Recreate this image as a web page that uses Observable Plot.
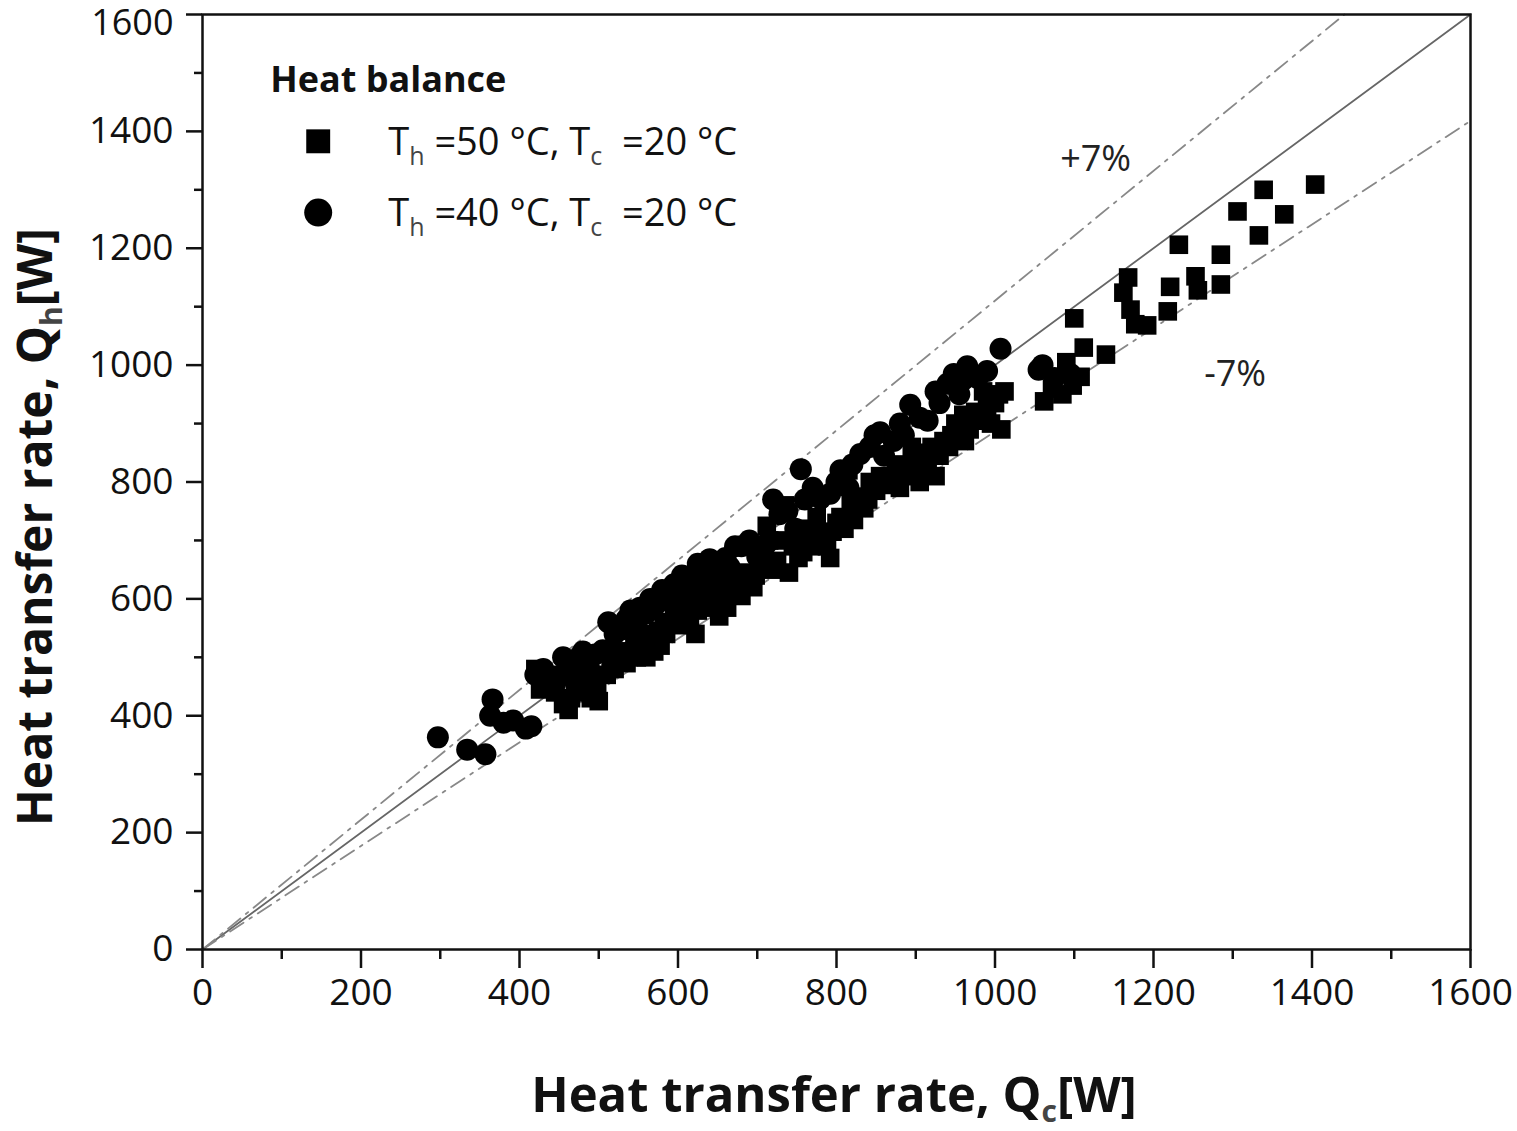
<!DOCTYPE html>
<html><head><meta charset="utf-8">
<script src="https://cdn.jsdelivr.net/npm/d3@7"></script>
<script src="https://cdn.jsdelivr.net/npm/@observablehq/plot@0.6"></script>
<style>
html,body{margin:0;padding:0;background:#fff;}
#chart{width:1517px;height:1131px;}
</style>
</head><body><div id="chart"></div>
<script>
// ---- data (Qc [W], Qh [W]) ----
const series50 = [ // Th = 50 °C, Tc = 20 °C (squares)
[420,480],[432,468],[445,440],[455,420],[462,410],[470,450],[480,440],[490,430],[500,425],[510,470],
[520,480],[530,500],[540,510],[545,530],[555,520],[560,500],[570,510],[575,545],[585,540],[590,560],
[600,555],[605,580],[615,570],[622,540],[630,600],[640,585],[645,610],[652,570],[660,600],[665,620],
[672,640],[680,605],[690,630],[695,620],[705,660],[712,725],[720,650],[730,700],[735,760],[740,645],
[752,670],[760,705],[768,690],[775,740],[785,700],[792,670],[800,730],[810,720],[815,820],[822,735],
[835,755],[842,800],[850,785],[862,800],[870,810],[880,790],[890,810],[895,860],[905,800],[915,830],
[925,810],[935,870],[942,860],[950,900],[958,880],[968,890],[975,920],[985,905],[995,900],[1000,935],
[1008,890],[1012,955],[1062,938],[1072,960],[1085,950],[1090,1005],[1098,965],[1100,1080],[1108,980],[1112,1030],
[1140,1018],[1162,1124],[1168,1150],[1171,1095],[1177,1070],[1192,1068],[1218,1092],[1221,1134],[1232,1206],[1253,1152],
[1256,1128],[1285,1138],[1285,1189],[1306,1263],[1333,1222],[1339,1300],[1365,1258],[1404,1309],
[450,470],[465,430],[478,460],[488,455],[498,445],[515,490],[525,510],[535,490],[548,500],[558,540],
[565,530],[578,520],[582,560],[595,575],[608,560],[612,590],[618,605],[625,580],[635,620],[648,595],
[655,625],[662,585],[670,610],[678,625],[685,645],[698,640],[708,680],[715,700],[725,665],[745,690],
[758,680],[765,720],[778,710],[788,690],[795,715],[805,740],[818,760],[828,775],[840,770],[855,810],
[868,795],[875,830],[898,830],[910,850],[920,860],[930,845],[945,880],[962,870],[972,905],[990,930],
[426,445],[1005,950],[985,955],[960,915]
];
const series40 = [ // Th = 40 °C, Tc = 20 °C (circles)
[297,363],[334,342],[357,334],[366,428],[363,400],[380,388],[392,392],[408,378],[415,382],[420,470],
[440,462],[455,500],[470,490],[480,510],[495,505],[505,512],[512,560],[530,548],[540,580],[548,560],
[560,575],[572,590],[580,615],[598,605],[605,640],[620,625],[630,650],[640,668],[655,640],[665,655],
[680,690],[700,672],[712,695],[728,745],[748,720],[755,822],[770,790],[780,772],[792,780],[805,820],
[815,790],[830,848],[848,880],[860,845],[872,870],[885,880],[893,932],[905,910],[915,905],[930,935],
[940,968],[955,950],[965,998],[978,978],[990,990],[1007,1028],[1055,992],[1060,1000],[1075,978],[1095,985],
[430,480],[445,455],[460,470],[475,500],[488,480],[520,540],[535,565],[552,585],[565,600],[585,600],
[595,625],[612,630],[625,660],[648,650],[660,670],[672,690],[690,700],[720,770],[738,750],[760,770],
[800,800],[820,830],[842,860],[855,885],[880,900],[925,955],[948,985],[960,975]
];
const xMajorTicks = [0,200,400,600,800,1000,1200,1400,1600];
const xMinorTicks = [100,300,500,700,900,1100,1300,1500];
const yMajorTicks = [0,200,400,600,800,1000,1200,1400,1600];
const yLabelledTicks = [0,200,400,600,800,1000,1200,1400];
const yTopTick = [1600];
const yMinorTicks = [100,300,500,700,900,1100,1300,1500];
const diagonal = [[0,0],[1600,1600]];
const upperBand = [[0,0],[1441,1600]];  // "+7%" line as drawn
const lowerBand = [[0,0],[1600,1418]];  // "-7%" line as drawn
const bandLabels = [{x:1127,y:1352,text:"+7%"},{x:1303,y:984,text:"-7%"}];
const legendTitle = "Heat balance";
const legendItems = [
  {symbol:"square", parts:[["T"],["h",true],[" =50 °C, T"],["c",true],["  =20 °C"]]},
  {symbol:"circle", parts:[["T"],["h",true],[" =40 °C, T"],["c",true],["  =20 °C"]]}
];
const xLabelParts = [["Heat transfer rate, Q"],["c",true],["[W]"]];
const yLabelParts = [["Heat transfer rate, Q"],["h",true],["[W]"]];

const font = "'Open Sans', sans-serif";
const sq = series50.map(([x,y])=>({x,y}));
const ci = series40.map(([x,y])=>({x,y}));

const legendPos = {markerX:146, rows:[1383,1261], textX:235, baselines:[1358,1238], titleX:86, titleY:1466};

const plot = Plot.plot({
  width:1517, height:1131,
  marginLeft:202, marginRight:47, marginTop:14, marginBottom:182,
  x:{domain:[0,1600], label:null},
  y:{domain:[0,1600], label:null},
  style:{fontFamily:font, fontSize:"37px", color:"#111", background:"#fff", overflow:"visible"},
  marks:[
    Plot.line(diagonal,{x:d=>d[0],y:d=>d[1],stroke:"#666",strokeWidth:1.8}),
    Plot.line(upperBand,{x:d=>d[0],y:d=>d[1],stroke:"#888",strokeWidth:1.8,strokeDasharray:"16,7,3,7"}),
    Plot.line(lowerBand,{x:d=>d[0],y:d=>d[1],stroke:"#888",strokeWidth:1.8,strokeDasharray:"16,7,3,7"}),
    Plot.dot(sq,{x:"x",y:"y",symbol:"square",r:10.5,fill:"#000",stroke:"none"}),
    Plot.dot(ci,{x:"x",y:"y",symbol:"circle",r:11,fill:"#000",stroke:"none"}),
    Plot.axisX({ticks:xMajorTicks,tickSize:19,tickPadding:10,tickFormat:d=>String(d),strokeWidth:2.5,fontSize:37}),
    Plot.axisX({ticks:xMinorTicks,tickSize:10,text:null,strokeWidth:2.5}),
    Plot.axisY({ticks:yMajorTicks,tickSize:16,text:null,strokeWidth:2.5}),
    Plot.axisY({ticks:yLabelledTicks,tickSize:0,tickPadding:29,tickFormat:d=>String(d),fontSize:37}),
    Plot.text(yTopTick,{x:()=>0,y:d=>d,text:d=>String(d),dx:-29,dy:9,textAnchor:"end",fontSize:36,fill:"#111"}),
    Plot.axisY({ticks:yMinorTicks,tickSize:8,text:null,strokeWidth:2.5}),
    Plot.frame({stroke:"#111",strokeWidth:2.5}),
    Plot.text(bandLabels,{x:"x",y:"y",text:"text",fontSize:36,fill:"#222",textAnchor:"middle"}),
    Plot.dot([legendItems[0]],{x:()=>legendPos.markerX,y:()=>legendPos.rows[0],symbol:"square",r:13.5,fill:"#000"}),
    Plot.dot([legendItems[1]],{x:()=>legendPos.markerX,y:()=>legendPos.rows[1],symbol:"circle",r:14,fill:"#000"})
  ]
});
document.getElementById("chart").appendChild(plot);

const svg = d3.select(plot);
const xs = plot.scale("x"), ys = plot.scale("y");
function richText(g, parts, size, subSize, shift){
  let inSub = false;
  parts.forEach(([t,sub])=>{
    const ts = g.append("tspan").text(t);
    if(sub){ ts.attr("font-size",subSize).attr("dy",shift).attr("fill","#444"); inSub = true; }
    else if(inSub){ ts.attr("dy",-shift); inSub = false; }
  });
}
// legend
svg.append("text").attr("x",xs.apply(legendPos.titleX)).attr("y",ys.apply(legendPos.titleY))
  .attr("text-anchor","start").attr("font-family",font).attr("font-weight","bold").attr("font-size",36).attr("fill","#111").text(legendTitle);
legendItems.forEach((it,i)=>{
  const t = svg.append("text").attr("x",xs.apply(legendPos.textX)).attr("y",ys.apply(legendPos.baselines[i]))
    .attr("text-anchor","start").attr("font-family",font).attr("font-size",38).attr("fill","#111");
  richText(t,it.parts,38,25,10);
});
// axis titles
const xl = svg.append("text").attr("x",(xs.range[0]+xs.range[1])/2 - 2).attr("y",1112)
  .attr("text-anchor","middle").attr("font-family",font).attr("font-weight","bold").attr("font-size",49).attr("fill","#111");
richText(xl,xLabelParts,49,30,10);
const yl = svg.append("text").attr("transform",`translate(52,527) rotate(-90)`)
  .attr("text-anchor","middle").attr("font-family",font).attr("font-weight","bold").attr("font-size",48).attr("fill","#111");
richText(yl,yLabelParts,48,30,10);
</script>
</body></html>
